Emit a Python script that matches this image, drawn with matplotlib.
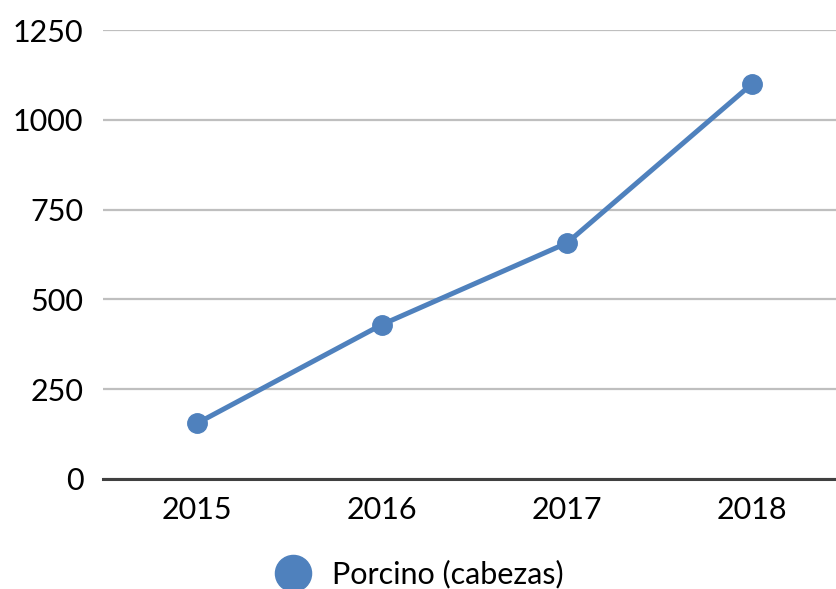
import matplotlib.pyplot as plt
from matplotlib.lines import Line2D

years = ["2015", "2016", "2017", "2018"]
porcino = [155, 430, 657, 1100]
serie = "Porcino (cabezas)"
yticks = [0, 250, 500, 750, 1000, 1250]

azul = "#4F81BD"
plt.rcParams["font.family"] = ["Lato", "DejaVu Sans"]

fig = plt.figure(figsize=(8.36, 5.89), dpi=100)
ax = fig.add_axes([103 / 836, 1 - 479 / 589, 1 - 103 / 836, (479 - 30) / 589])

x = list(range(len(years)))
ax.plot(x, porcino, color=azul, lw=3.6, marker="o", ms=14, zorder=3, label=serie)

ax.set_ylim(0, 1250)
ax.set_xlim(-0.508, (836 - 197) / 185)
ax.set_yticks(yticks)
ax.set_yticklabels([str(v) for v in yticks])
ax.set_xticks(x)
ax.set_xticklabels(years)
ax.tick_params(axis="both", length=0, labelsize=22, colors="#000000")
ax.tick_params(axis="y", pad=14)
ax.tick_params(axis="x", pad=12)

for s in ["top", "right", "left"]:
    ax.spines[s].set_visible(False)
ax.spines["bottom"].set_color("#404040")
ax.spines["bottom"].set_linewidth(2.2)
ax.spines["bottom"].set_zorder(2)
ax.grid(axis="y", color="#BFBFBF", lw=1.6)
ax.set_axisbelow(True)

handle = Line2D([], [], color=azul, marker="o", ls="", ms=26)
fig.legend([handle], [serie], loc="center left", bbox_to_anchor=(262 / 836, 1 - 574 / 589),
           frameon=False, fontsize=22, handletextpad=0.3, borderpad=0, borderaxespad=0)

fig.savefig("out.png", dpi=100)
